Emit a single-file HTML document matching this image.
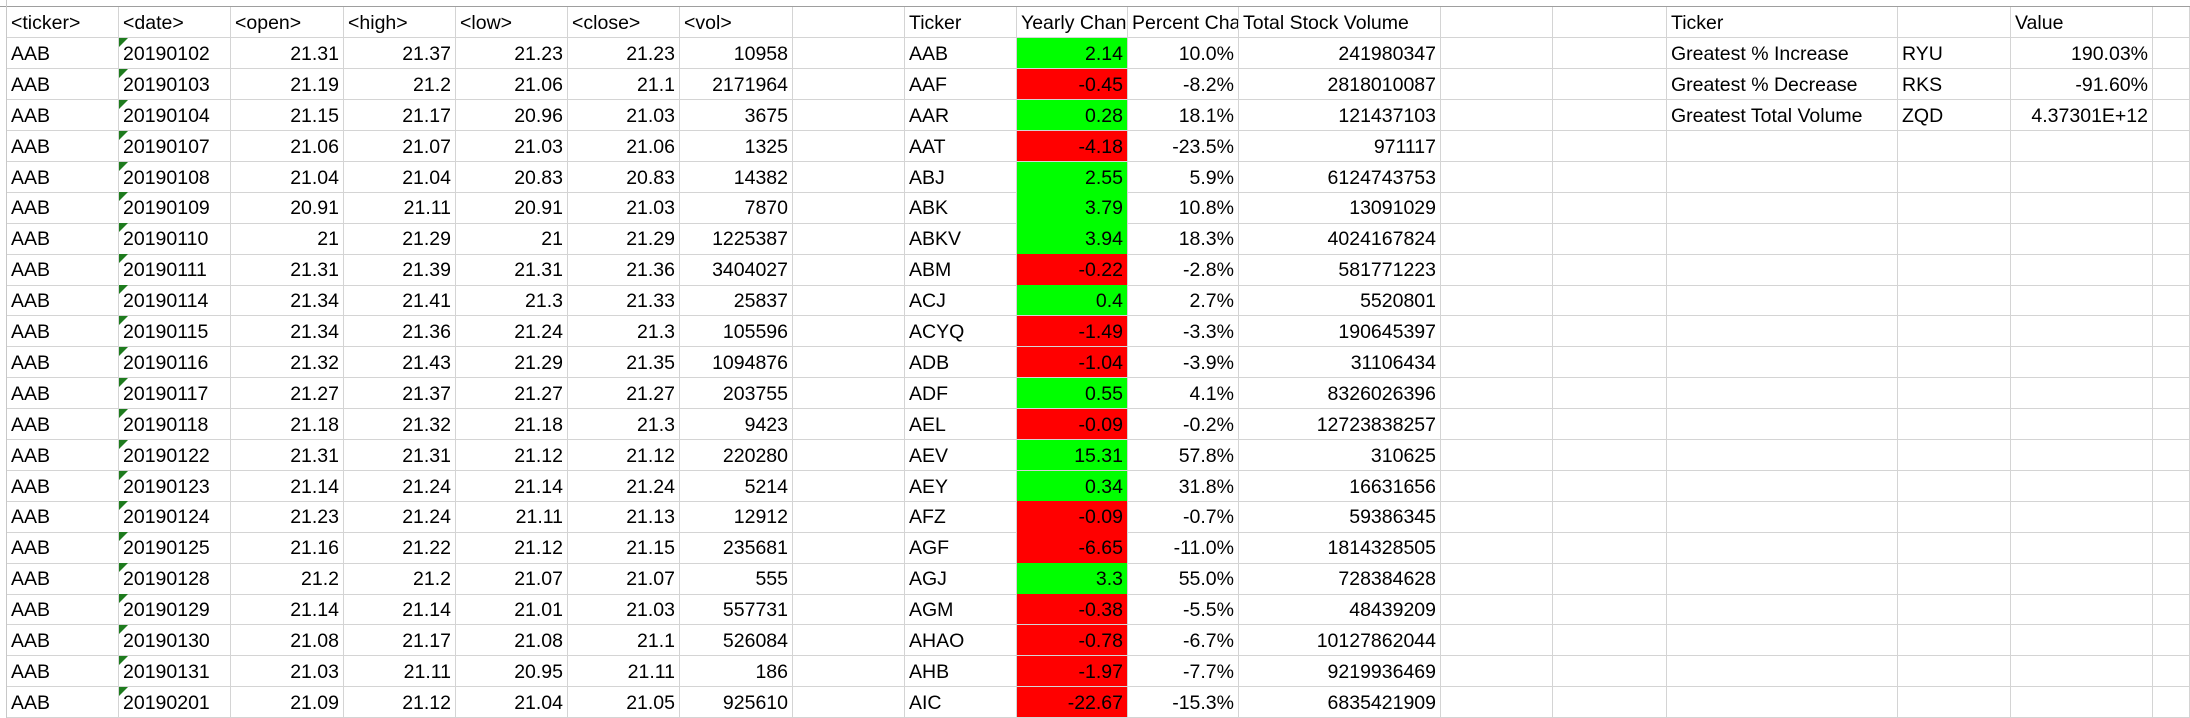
<!DOCTYPE html>
<html><head><meta charset="utf-8">
<style>
html,body{margin:0;padding:0;background:#fff;}
#sheet{position:relative;width:2190px;height:718px;overflow:hidden;font-family:"Liberation Sans",Arial,sans-serif;font-size:19.5px;color:#000;}
.c{position:absolute;box-sizing:border-box;border-right:1px solid #d4d4d4;border-bottom:1px solid #d4d4d4;overflow:hidden;white-space:nowrap;line-height:32px;padding:0 4px;}
.r{text-align:right;}
.g{background:#00ff00;}
.rd{background:#ff0000;}
.tri{position:absolute;left:0;top:0;width:0;height:0;border-top:9px solid #1e7b1e;border-right:9px solid transparent;}
#topline{position:absolute;left:0;top:6px;width:2190px;height:1px;background:#9e9e9e;}
#leftline{position:absolute;left:6px;top:0;width:1px;height:718px;background:#c8c8c8;}
</style></head>
<body>
<div id="sheet"><div id="topline"></div><div id="leftline"></div></div>
<script>
const colX=[7,119,231,344,456,568,680,793,905,1017,1128,1239,1441,1553,1667,1898,2011,2153,2190];
const top0=7, rowH=30.9;
const headers=["<ticker>","<date>","<open>","<high>","<low>","<close>","<vol>","","Ticker","Yearly Change","Percent Change","Total Stock Volume","","","Ticker","","Value",""];
const dates=["20190102","20190103","20190104","20190107","20190108","20190109","20190110","20190111","20190114","20190115","20190116","20190117","20190118","20190122","20190123","20190124","20190125","20190128","20190129","20190130","20190131","20190201"];
const opens=["21.31","21.19","21.15","21.06","21.04","20.91","21","21.31","21.34","21.34","21.32","21.27","21.18","21.31","21.14","21.23","21.16","21.2","21.14","21.08","21.03","21.09"];
const highs=["21.37","21.2","21.17","21.07","21.04","21.11","21.29","21.39","21.41","21.36","21.43","21.37","21.32","21.31","21.24","21.24","21.22","21.2","21.14","21.17","21.11","21.12"];
const lows=["21.23","21.06","20.96","21.03","20.83","20.91","21","21.31","21.3","21.24","21.29","21.27","21.18","21.12","21.14","21.11","21.12","21.07","21.01","21.08","20.95","21.04"];
const closes=["21.23","21.1","21.03","21.06","20.83","21.03","21.29","21.36","21.33","21.3","21.35","21.27","21.3","21.12","21.24","21.13","21.15","21.07","21.03","21.1","21.11","21.05"];
const vols=["10958","2171964","3675","1325","14382","7870","1225387","3404027","25837","105596","1094876","203755","9423","220280","5214","12912","235681","555","557731","526084","186","925610"];
const tickers=["AAB","AAF","AAR","AAT","ABJ","ABK","ABKV","ABM","ACJ","ACYQ","ADB","ADF","AEL","AEV","AEY","AFZ","AGF","AGJ","AGM","AHAO","AHB","AIC"];
const yearly=[2.14,-0.45,0.28,-4.18,2.55,3.79,3.94,-0.22,0.4,-1.49,-1.04,0.55,-0.09,15.31,0.34,-0.09,-6.65,3.3,-0.38,-0.78,-1.97,-22.67];
const pct=["10.0%","-8.2%","18.1%","-23.5%","5.9%","10.8%","18.3%","-2.8%","2.7%","-3.3%","-3.9%","4.1%","-0.2%","57.8%","31.8%","-0.7%","-11.0%","55.0%","-5.5%","-6.7%","-7.7%","-15.3%"];
const totals=["241980347","2818010087","121437103","971117","6124743753","13091029","4024167824","581771223","5520801","190645397","31106434","8326026396","12723838257","310625","16631656","59386345","1814328505","728384628","48439209","10127862044","9219936469","6835421909"];
const summaryLabels=["Greatest % Increase","Greatest % Decrease","Greatest Total Volume"];
const summaryTickers=["RYU","RKS","ZQD"];
const summaryValues=["190.03%","-91.60%","4.37301E+12"];
const sheet=document.getElementById('sheet');
function cell(row,col,text,right,cls){
  const d=document.createElement('div');
  d.className='c'+(right?' r':'')+(cls?' '+cls:'');
  d.style.left=colX[col]+'px';
  d.style.width=(colX[col+1]-colX[col])+'px';
  d.style.top=(top0+row*rowH)+'px';
  d.style.height=(rowH+0.5)+'px';
  d.textContent=text;
  sheet.appendChild(d);
  return d;
}
const nrows=23;
for(let r=0;r<nrows;r++){
  for(let c=0;c<colX.length-1;c++){
    let text='',right=false,cls='';
    const i=r-1;
    if(r===0){text=headers[c];}
    else{
      if(c===0)text='AAB';
      else if(c===1)text=dates[i];
      else if(c===2){text=opens[i];right=true;}
      else if(c===3){text=highs[i];right=true;}
      else if(c===4){text=lows[i];right=true;}
      else if(c===5){text=closes[i];right=true;}
      else if(c===6){text=vols[i];right=true;}
      else if(c===8)text=tickers[i];
      else if(c===9){text=String(yearly[i]);right=true;cls=yearly[i]>=0?'g':'rd';}
      else if(c===10){text=pct[i];right=true;}
      else if(c===11){text=totals[i];right=true;}
      else if(c===14&&i<3)text=summaryLabels[i];
      else if(c===15&&i<3)text=summaryTickers[i];
      else if(c===16&&i<3){text=summaryValues[i];right=true;}
    }
    const d=cell(r,c,text,right,cls);
    
    
    if(r>0&&c===1){
      const t=document.createElement('div');
      t.className='tri';
      
      
      d.appendChild(t);
    }
  }
}
</script>
</body></html>
